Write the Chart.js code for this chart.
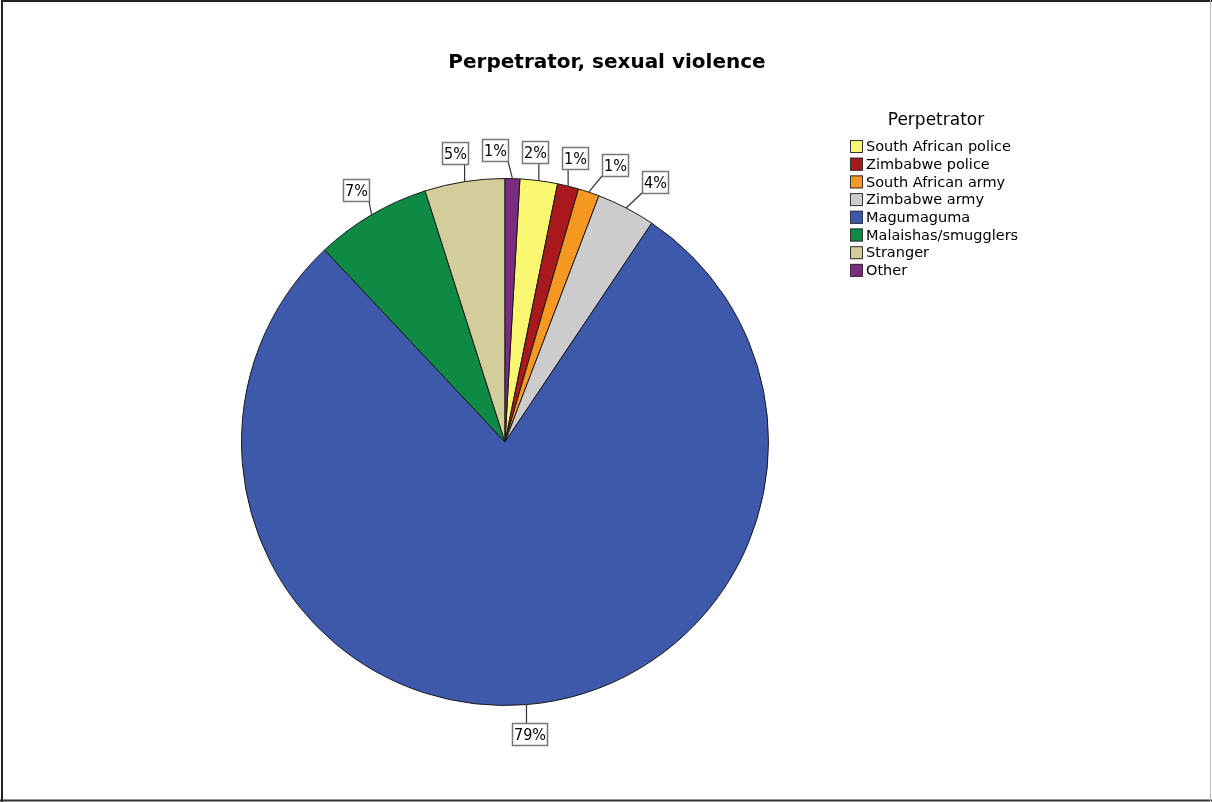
<!DOCTYPE html>
<html>
<head>
<meta charset="utf-8">
<title>Perpetrator, sexual violence</title>
<script src="https://cdn.jsdelivr.net/npm/chart.js@4.4.1/dist/chart.umd.min.js"></script>
<style>
  html, body { margin: 0; padding: 0; background: #ffffff; }
  #wrap { width: 1212px; height: 802px; position: relative; }
</style>
</head>
<body>
<div id="wrap"><canvas id="pie" width="1212" height="802"></canvas></div>
<script>
// Who committed the sexual violence (percent of reported cases)
const categories = [
  'South African police',
  'Zimbabwe police',
  'South African army',
  'Zimbabwe army',
  'Magumaguma',
  'Malaishas/smugglers',
  'Stranger',
  'Other'
];
const shares = [2.3, 1.3, 1.3, 3.6, 78.6, 7.1, 4.9, 0.9];
const sliceColors = [
  '#F9F66F', '#A8181C', '#F69822', '#CCCCCC',
  '#3E59AB', '#0F8A45', '#D3CD9B', '#7A2B82'
];
const chartTitle = 'Perpetrator, sexual violence';
const legendTitle = 'Perpetrator';

const total = shares.reduce((a, b) => a + b, 0);
const pctLabels = shares.map(v => Math.round(v / total * 100) + '%');
// the last slice ("Other") sits just right of twelve o'clock
const startRotation = shares[shares.length - 1] / total * 360;

const FONT = '"DejaVu Sans", "Liberation Sans", sans-serif';
const LABEL_FONT = '"DejaVu Sans Condensed", "DejaVu Sans", sans-serif';

// white page, outer frame and the chart heading
const pagePlugin = {
  id: 'page',
  beforeDraw(chart) {
    const c = chart.ctx;
    c.save();
    c.fillStyle = '#ffffff';
    c.fillRect(0, 0, chart.width, chart.height);
    c.restore();
  },
  afterDraw(chart) {
    const c = chart.ctx;
    c.save();
    c.fillStyle = '#000000';
    c.font = 'bold 20px ' + FONT;
    c.textAlign = 'center';
    c.textBaseline = 'middle';
    c.fillText(chartTitle, 607, 63);

    c.strokeStyle = '#222222';
    c.lineWidth = 2;
    c.beginPath();
    c.moveTo(2, 802); c.lineTo(2, 1); c.lineTo(1212, 1);
    c.stroke();
    c.strokeStyle = '#333333';
    c.beginPath();
    c.moveTo(0, 800.5); c.lineTo(1212, 800.5);
    c.stroke();
    c.strokeStyle = '#bbbbbb';
    c.lineWidth = 1;
    c.beginPath();
    c.moveTo(1210.5, 0); c.lineTo(1210.5, 802);
    c.stroke();
    c.restore();
  }
};

// legend block to the right of the pie
const legendPlugin = {
  id: 'sideLegend',
  afterDraw(chart) {
    const c = chart.ctx;
    const x0 = 850, y0 = 147, step = 17.7;
    c.save();
    c.fillStyle = '#000000';
    c.font = '17px ' + FONT;
    c.textAlign = 'center';
    c.textBaseline = 'middle';
    c.fillText(legendTitle, 936, 121);
    c.font = '14.5px ' + FONT;
    c.textAlign = 'left';
    categories.forEach((name, i) => {
      const y = y0 + i * step;
      c.fillStyle = sliceColors[i];
      c.fillRect(x0, y - 7, 13, 13);
      c.strokeStyle = '#333333';
      c.lineWidth = 1;
      c.strokeRect(x0 + 0.5, y - 6.5, 12, 12);
      c.fillStyle = '#000000';
      c.fillText(name, x0 + 16, y + 0.5);
    });
    c.restore();
  }
};

// boxed percentage labels outside the pie with leader lines
const pctPlugin = {
  id: 'pctBoxes',
  afterDatasetsDraw(chart) {
    const c = chart.ctx;
    const meta = chart.getDatasetMeta(0);
    const h = 22, lead = 18, gap = 14;
    c.save();
    c.font = '16px ' + LABEL_FONT;
    const boxes = meta.data.map((arc, i) => {
      const p = arc.getProps(['x', 'y', 'startAngle', 'endAngle', 'outerRadius'], true);
      const mid = (p.startAngle + p.endAngle) / 2;
      const ux = Math.cos(mid), uy = Math.sin(mid);
      const w = Math.round(c.measureText(pctLabels[i]).width + 3);
      const ex = p.x + ux * p.outerRadius, ey = p.y + uy * p.outerRadius;
      const ax = p.x + ux * (p.outerRadius + lead), ay = p.y + uy * (p.outerRadius + lead);
      return { i, w, ex, ey, cx: ax + ux * w / 2, cy: ay + uy * h / 2 };
    });
    // spread neighbouring boxes apart sideways where they collide
    for (let pass = 0; pass < 60; pass++) {
      let moved = false;
      for (let a = 0; a < boxes.length; a++) {
        for (let b = a + 1; b < boxes.length; b++) {
          const A = boxes[a], B = boxes[b];
          if (Math.abs(A.cy - B.cy) >= h) continue;
          const need = (A.w + B.w) / 2 + gap;
          const d = B.cx - A.cx;
          if (Math.abs(d) < need) {
            const push = (need - Math.abs(d)) / 2 * (d >= 0 ? 1 : -1);
            A.cx -= push; B.cx += push;
            moved = true;
          }
        }
      }
      if (!moved) break;
    }
    boxes.forEach(bx => {
      const l = Math.round(bx.cx - bx.w / 2), t = Math.round(bx.cy - h / 2);
      const r = l + bx.w, btm = t + h;
      const tx = Math.min(Math.max(bx.ex, l), r);
      const ty = Math.min(Math.max(bx.ey, t), btm);
      c.strokeStyle = '#333333';
      c.lineWidth = 1.2;
      c.beginPath();
      c.moveTo(bx.ex, bx.ey);
      c.lineTo(tx, ty);
      c.stroke();
      c.fillStyle = '#ffffff';
      c.fillRect(l, t, bx.w, h);
      c.strokeStyle = '#777777';
      c.lineWidth = 1.5;
      c.strokeRect(l + 0.5, t + 0.5, bx.w, h);
      c.fillStyle = '#000000';
      c.textAlign = 'center';
      c.textBaseline = 'middle';
      c.fillText(pctLabels[bx.i], l + bx.w / 2 + 0.5, t + h / 2 + 1.5);
    });
    c.restore();
  }
};

new Chart(document.getElementById('pie'), {
  type: 'pie',
  data: {
    labels: categories,
    datasets: [{
      data: shares,
      backgroundColor: sliceColors,
      borderColor: '#1a1a1a',
      borderWidth: 1
    }]
  },
  options: {
    responsive: false,
    animation: false,
    rotation: startRotation,
    layout: { padding: { left: 241, right: 443, top: 178, bottom: 96 } },
    plugins: {
      legend: { display: false },
      title: { display: false },
      tooltip: { enabled: false }
    },
    elements: { arc: { borderJoinStyle: 'miter' } }
  },
  plugins: [pagePlugin, pctPlugin, legendPlugin]
});
</script>
</body>
</html>
